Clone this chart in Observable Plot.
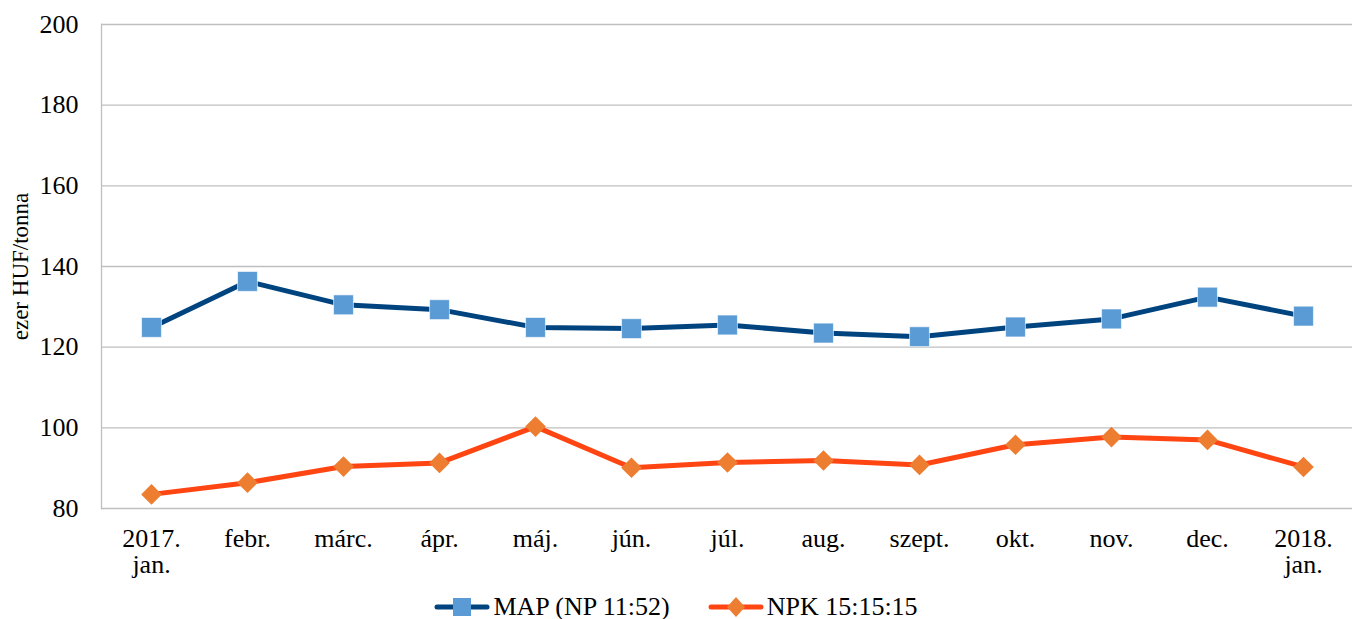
<!DOCTYPE html>
<html>
<head>
<meta charset="utf-8">
<script src="https://cdn.jsdelivr.net/npm/d3@7"></script>
<script src="https://cdn.jsdelivr.net/npm/@observablehq/plot@0.6"></script>
<style>
  html, body { margin: 0; padding: 0; background: #fff; overflow: hidden; }
  #chart { width: 1352px; height: 590px; }
  .legend { display: flex; justify-content: center; gap: 38px; font-family: "Liberation Serif", "Times New Roman", serif; font-size: 26px; color: #000; height: 29px; line-height: 29px; align-items: center; padding-top: 2px; }
  .legend .item { display: flex; align-items: center; gap: 3px; }
  .legend svg { display: block; }
</style>
</head>
<body>
<div id="chart"></div>
<script>
const months = ["2017.\njan.", "febr.", "márc.", "ápr.", "máj.", "jún.", "júl.", "aug.", "szept.", "okt.", "nov.", "dec.", "2018.\njan."];
const mapValues = [124.9, 136.3, 130.5, 129.3, 124.9, 124.6, 125.5, 123.5, 122.6, 125.0, 127.0, 132.4, 127.7];
const npkValues = [83.5, 86.4, 90.4, 91.3, 100.3, 90.1, 91.4, 91.9, 90.8, 95.8, 97.7, 97.0, 90.3];
const seriesNames = ["MAP (NP 11:52)", "NPK 15:15:15"];
const yTicks = [80, 100, 120, 140, 160, 180, 200];
const yLabel = "ezer HUF/tonna";
const lineColors = ["#00447F", "#FF4512"];
const markerColors = ["#5B9BD5", "#ED7D31"];

const mapData = months.map((m, i) => ({month: m, value: mapValues[i]}));
const npkData = months.map((m, i) => ({month: m, value: npkValues[i]}));

const chart = Plot.plot({
  width: 1352,
  height: 590,
  marginLeft: 101,
  marginRight: 0,
  marginTop: 24,
  marginBottom: 82,
  style: {fontFamily: "'Liberation Serif', 'Times New Roman', serif", fontSize: "26px", color: "#000", background: "#fff"},
  x: {type: "point", domain: months, padding: 0.5, label: null},
  y: {domain: [80, 200], ticks: yTicks, label: null},
  marks: [
    Plot.gridY(yTicks, {stroke: "#BFBFBF", strokeOpacity: 1, strokeWidth: 1.3}),
    Plot.frame({anchor: "left", stroke: "#BFBFBF", strokeWidth: 1.3}),
    Plot.axisY({ticks: yTicks, tickSize: 0, tickPadding: 23, fontSize: 26, label: null}),
    Plot.axisX({tickSize: 0, tickPadding: 20, fontSize: 26, lineHeight: 1.0, label: null}),
    Plot.text([yLabel], {frameAnchor: "left", textAnchor: "middle", dx: -81, rotate: -90, fontSize: "23px", fontFamily: "Liberation Serif"}),
    Plot.line(mapData, {x: "month", y: "value", stroke: lineColors[0], strokeWidth: 5}),
    Plot.line(npkData, {x: "month", y: "value", stroke: lineColors[1], strokeWidth: 5}),
    Plot.dot(mapData, {x: "month", y: "value", symbol: "square", r: 11.2, fill: markerColors[0], stroke: "#fff", strokeWidth: 0.6}),
    Plot.dot(npkData, {x: "month", y: "value", symbol: "diamond2", r: 9.3, fill: markerColors[1], stroke: "none"})
  ]
});
document.getElementById("chart").appendChild(chart);

const legend = document.createElement("div");
legend.className = "legend";
const swatch = (i) => {
  const shape = i === 0
    ? `<rect x="19" y="4" width="18" height="18" fill="${markerColors[0]}"/>`
    : `<path d="M28,3 L37,13 L28,23 L19,13 Z" fill="${markerColors[1]}"/>`;
  return `<svg width="56" height="26"><line x1="3" x2="53" y1="13" y2="13" stroke="${lineColors[i]}" stroke-width="5" stroke-linecap="round"/>${shape}</svg>`;
};
seriesNames.forEach((name, i) => {
  const it = document.createElement("div");
  it.className = "item";
  it.innerHTML = swatch(i) + `<span>${name}</span>`;
  legend.appendChild(it);
});
document.body.appendChild(legend);
</script>
</body>
</html>
